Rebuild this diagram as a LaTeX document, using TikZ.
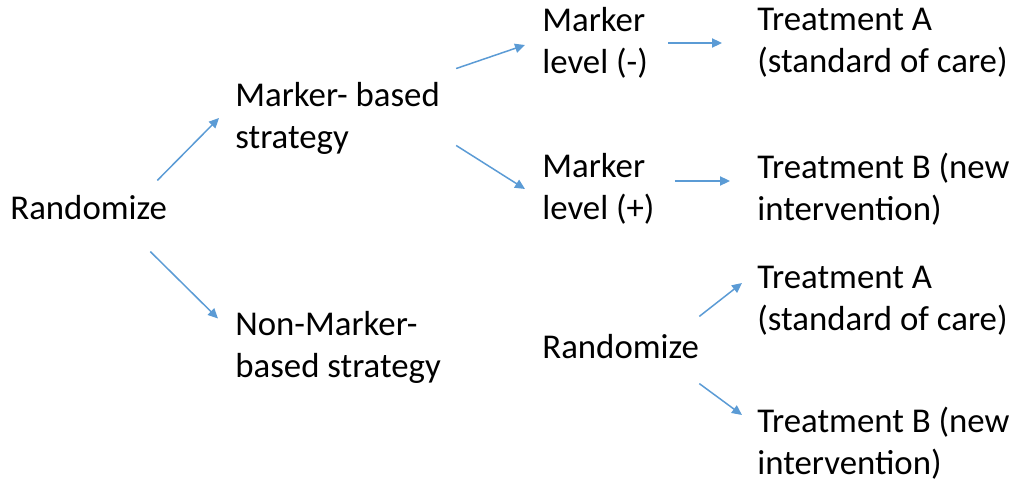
\documentclass[tikz,border=0pt]{standalone}
\usepackage{fontspec}
\setmainfont{Carlito}
\usetikzlibrary{arrows.meta, positioning}
\definecolor{arrowblue}{RGB}{91,155,213}

\begin{document}
\begin{tikzpicture}[
    x=0.5pt, y=-0.5pt,
    label/.style={anchor=west, inner sep=0pt, align=left, font=\fontsize{17.4pt}{21pt}\selectfont},
    arrow/.style={-{Triangle[length=5pt, width=4.6pt]}, arrowblue, line width=0.75pt}
]
\useasboundingbox (0,0) rectangle (1014,482);

% first split
\node[label] (rand) at (10,208) {Randomize};
\node[label] (mbased) at (235,118) {Marker- based\\strategy};
\node[label] (nonmb) at (235,347) {Non-Marker-\\based strategy};

% marker-based arm
\node[label] (mneg) at (542,43) {Marker\\level (-)};
\node[label] (mpos) at (542,189) {Marker\\level (+)};
\node[label] (trtaone) at (757,43) {Treatment A\\(standard of care)};
\node[label] (trtbone) at (757,189) {Treatment B (new\\intervention)};

% non-marker-based arm
\node[label] (randtwo) at (542,347) {Randomize};
\node[label] (trtatwo) at (757,301) {Treatment A\\(standard of care)};
\node[label] (trtbtwo) at (757,443) {Treatment B (new\\intervention)};

% Arrows
\draw[arrow] ([xshift=-5pt,yshift=7.5pt]rand.north east) -- ([xshift=-8pt]mbased.west);
\draw[arrow] ([xshift=-8.5pt,yshift=-15.5pt]rand.south east) -- ([xshift=-8.5pt,yshift=-4pt]nonmb.north west);
\draw[arrow] ([xshift=8pt,yshift=6.5pt]mbased.north east) -- ([xshift=-8.5pt,yshift=-1pt]mneg.west);
\draw[arrow] ([xshift=8pt,yshift=4.5pt]mbased.south east) -- ([xshift=-8.5pt]mpos.west);
\draw[arrow] ([xshift=10pt]mneg.east) -- ([xshift=-17.5pt]trtaone.west);
\draw[arrow] ([xshift=10pt,yshift=4pt]mpos.east) -- ([xshift=-13.5pt,yshift=4pt]trtbone.west);
\draw[arrow] ([yshift=9pt]randtwo.north east) -- ([xshift=-7.5pt,yshift=9pt]trtatwo.west);
\draw[arrow] ([yshift=-12pt]randtwo.south east) -- ([xshift=-7.5pt,yshift=14pt]trtbtwo.west);

\end{tikzpicture}
\end{document}
